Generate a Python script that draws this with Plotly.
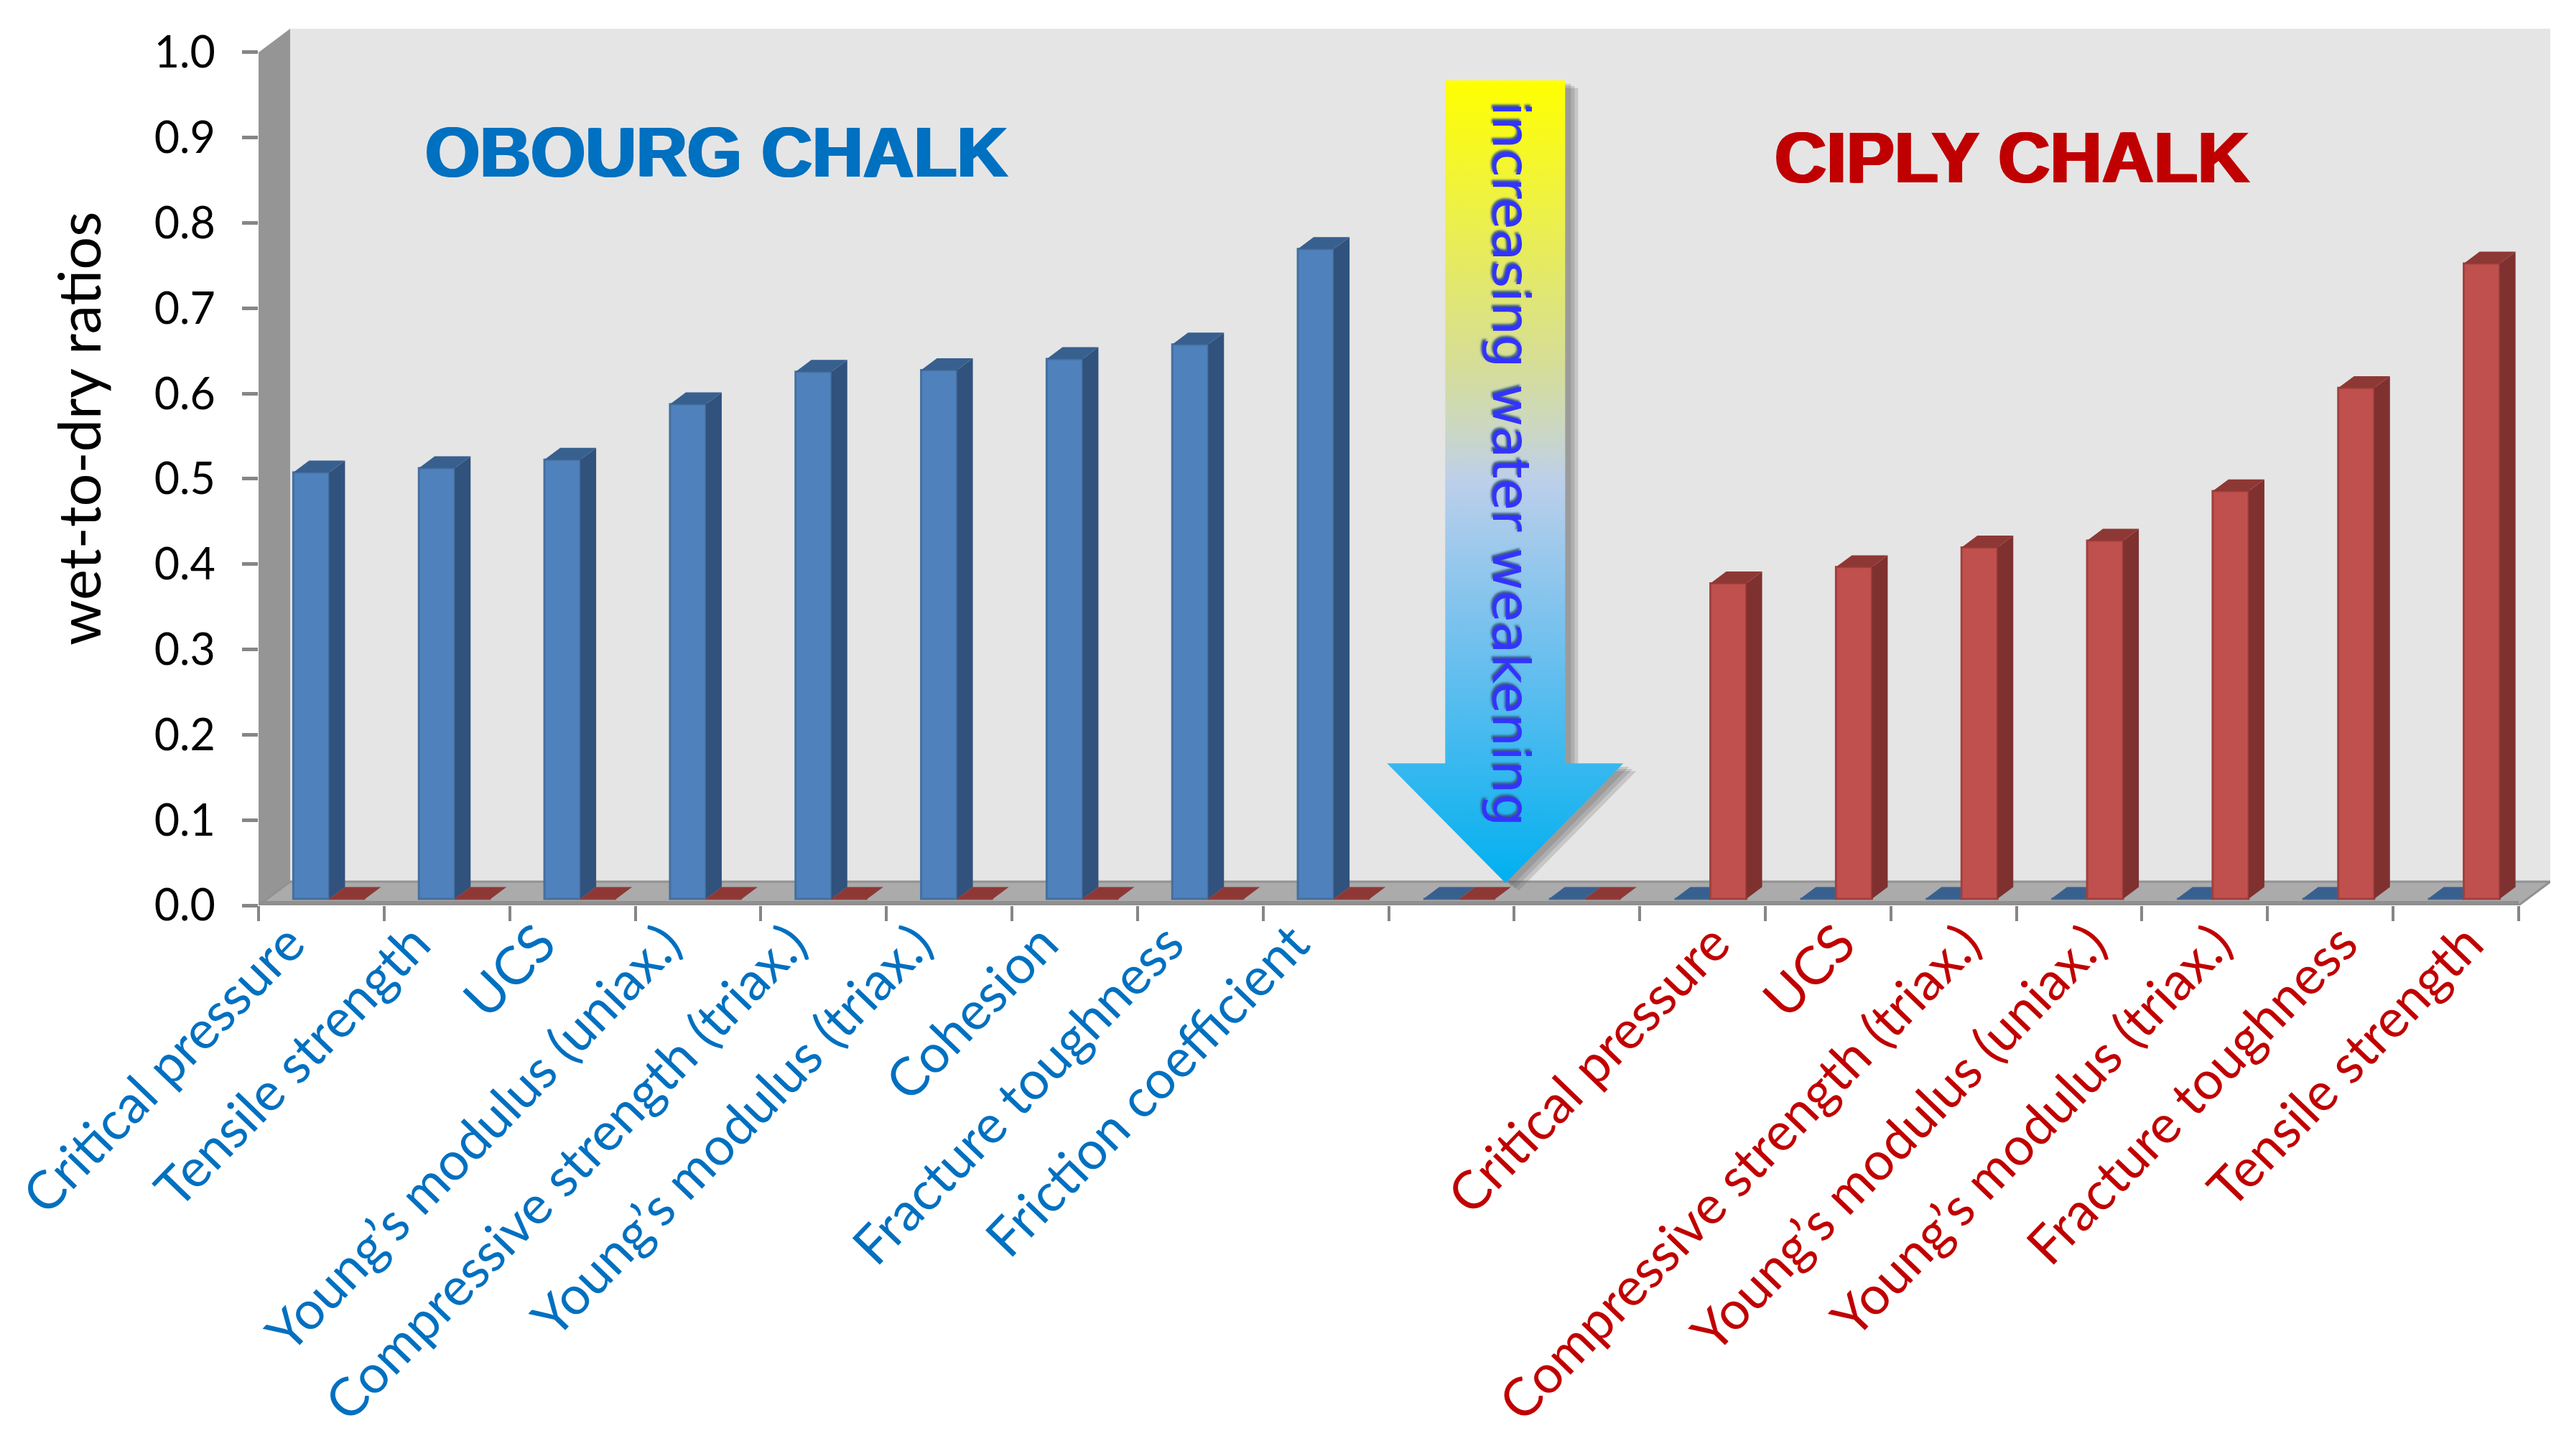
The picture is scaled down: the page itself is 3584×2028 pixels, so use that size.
import plotly.graph_objects as go

# slots along the x axis, 9 Obourg + 2 empty + 7 Ciply
obourg_labels = [
    "Critical pressure", "Tensile strength", "UCS", "Young’s modulus (uniax.)",
    "Compressive strength (triax.)", "Young’s modulus (triax.)", "Cohesion",
    "Fracture toughness", "Friction coefficient",
]
ciply_labels = [
    "Critical pressure", "UCS", "Compressive strength (triax.)",
    "Young’s modulus (uniax.)", "Young’s modulus (triax.)",
    "Fracture toughness", "Tensile strength",
]
empty_slots = 2

obourg_values = [0.50, 0.505, 0.515, 0.58, 0.618, 0.62, 0.633, 0.65, 0.762]
ciply_values = [0.37, 0.389, 0.412, 0.42, 0.478, 0.599, 0.745]

y_ticks = [0.0, 0.1, 0.2, 0.3, 0.4, 0.5, 0.6, 0.7, 0.8, 0.9, 1.0]

n_obourg = len(obourg_values)
n_ciply = len(ciply_values)
n_slots = n_obourg + empty_slots + n_ciply
slots = list(range(n_slots))

blue_values = obourg_values + [0] * (empty_slots + n_ciply)
red_values = [0] * (n_obourg + empty_slots) + ciply_values

# fake 3d, everything in axis units
SLOT_PX = 174.8
UNIT_PX = 1190
DEPTH_X = 44 / SLOT_PX
DEPTH_Y = 33 / UNIT_PX
BAR_W = 50 / SLOT_PX
BAR_SHIFT_X = 11 / SLOT_PX
BAR_SHIFT_Y = 9 / UNIT_PX
BAR_DEPTH_X = 22 / SLOT_PX
BAR_DEPTH_Y = 16.5 / UNIT_PX
# the two label groups do not sit at the same place under their slots
OBOURG_LABEL_SHIFT = -0.26
CIPLY_LABEL_SHIFT = 0.09

X_RANGE = [-0.5, n_slots - 0.5 + DEPTH_X]
Y_RANGE = [0, 1 + DEPTH_Y]
x_left, x_right = -0.5, n_slots - 0.5

LABEL_FONT = "Lato"
BLUE_TEXT = "#0070c0"
RED_TEXT = "#c00000"
GRID_GRAY = "#868686"


def px_x(px):
    return -0.5 + (px - 360) / SLOT_PX


def px_y(px):
    return (1261 - px) / UNIT_PX


def faces(values, offset):
    side_x, side_y, top_x, top_y = [], [], [], []
    for s, v in zip(slots, values):
        left = s + offset
        right = left + BAR_W
        low = BAR_SHIFT_Y
        high = BAR_SHIFT_Y + v
        if v > 0:
            side_x += [right, right + BAR_DEPTH_X, right + BAR_DEPTH_X, right, None]
            side_y += [low, low + BAR_DEPTH_Y, high + BAR_DEPTH_Y, high, None]
        top_x += [left, right, right + BAR_DEPTH_X, left + BAR_DEPTH_X, None]
        top_y += [high, high, high + BAR_DEPTH_Y, high + BAR_DEPTH_Y, None]
    return side_x, side_y, top_x, top_y


def add_series(fig, values, offset, front, line, side, top, xaxis, yaxis):
    side_x, side_y, top_x, top_y = faces(values, offset)
    fig.add_trace(go.Bar(
        x=slots, y=values, base=BAR_SHIFT_Y, width=BAR_W, offset=offset,
        marker=dict(color=front, line=dict(color=line, width=3)),
        xaxis=xaxis, yaxis=yaxis, showlegend=False,
    ))
    fig.add_trace(go.Scatter(
        x=side_x, y=side_y, mode="lines", fill="toself", fillcolor=side,
        line=dict(width=0, color=side), xaxis=xaxis, yaxis=yaxis, showlegend=False,
    ))
    fig.add_trace(go.Scatter(
        x=top_x, y=top_y, mode="lines", fill="toself", fillcolor=top,
        line=dict(width=0, color=top), xaxis=xaxis, yaxis=yaxis, showlegend=False,
    ))


tick_text = (
    [f'<span style="color:{BLUE_TEXT}">{t}</span>' for t in obourg_labels]
    + [f'<span style="color:{RED_TEXT}">{t}</span>' for t in ciply_labels]
)
label_vals = (
    [s + OBOURG_LABEL_SHIFT for s in slots[:n_obourg]]
    + [s + CIPLY_LABEL_SHIFT for s in slots[n_obourg + empty_slots:]]
)

fig = go.Figure()

add_series(fig, blue_values, BAR_SHIFT_X - BAR_W, "#4f81bd", "#44709f", "#30527d", "#38608f", "x", "y")
add_series(fig, red_values, BAR_SHIFT_X, "#c0504d", "#a2403d", "#7f3130", "#8e3835", "x2", "y2")

# arrow shadow then arrow, pixel positions
arrow_px = [(2012, 110), (2179, 110), (2179, 1063), (2260, 1063), (2096, 1230),
            (1931, 1063), (2012, 1063), (2012, 110)]
for off in [18, 13, 8]:
    fig.add_trace(go.Scatter(
        x=[px_x(p[0] + off) for p in arrow_px], y=[px_y(p[1] + off * 0.6) for p in arrow_px],
        mode="lines", fill="toself", fillcolor="rgba(90,90,90,0.22)", line=dict(width=0),
        xaxis="x2", yaxis="y2", showlegend=False,
    ))
fig.add_trace(go.Scatter(
    x=[px_x(p[0]) for p in arrow_px], y=[px_y(p[1]) for p in arrow_px],
    mode="lines", fill="toself", line=dict(width=0),
    fillgradient=dict(
        type="vertical",
        colorscale=[[0, "#00b0f0"], [0.31, "#75c1ee"], [0.5, "#bccfea"], [0.57, "#ccd8c0"],
                    [0.64, "#d5dd9a"], [0.82, "#ebef4e"], [1, "#ffff00"]],
    ),
    xaxis="x2", yaxis="y2", showlegend=False,
))

shapes = [
    # back wall
    dict(type="rect", xref="x", yref="y", x0=x_left + DEPTH_X, x1=x_right + DEPTH_X,
         y0=DEPTH_Y, y1=1 + DEPTH_Y, fillcolor="#e5e5e5", line=dict(width=0), layer="below"),
    # left wall
    dict(type="path", xref="x", yref="y", layer="below", fillcolor="#959595", line=dict(width=0),
         path=f"M {x_left} 0 L {x_left + DEPTH_X} {DEPTH_Y} L {x_left + DEPTH_X} {1 + DEPTH_Y} L {x_left} 1 Z"),
    # floor
    dict(type="path", xref="x", yref="y", layer="below", fillcolor="#ababab",
         line=dict(width=3, color="#919191"),
         path=f"M {x_left} 0 L {x_right} 0 L {x_right + DEPTH_X} {DEPTH_Y} L {x_left + DEPTH_X} {DEPTH_Y} Z"),
    # thick front edge of the floor
    dict(type="line", xref="x", yref="y", layer="below", x0=x_left, x1=x_right, y0=0.002, y1=0.002,
         line=dict(width=7, color="#8f8f8f")),
]

annotations = [
    dict(text="OBOURG CHALK", xref="paper", yref="paper", x=(997 - 360) / 3191, y=(1261 - 212) / 1221,
         xanchor="center", yanchor="middle", showarrow=False,
         font=dict(family="Liberation Sans", size=98, color=BLUE_TEXT, weight="bold",
                   shadow=f"2px 0 0 {BLUE_TEXT},-2px 0 0 {BLUE_TEXT}")),
    dict(text="CIPLY CHALK", xref="paper", yref="paper", x=(2801 - 360) / 3191, y=(1261 - 219) / 1221,
         xanchor="center", yanchor="middle", showarrow=False,
         font=dict(family="Liberation Sans", size=100, color=RED_TEXT, weight="bold",
                   shadow=f"2px 0 0 {RED_TEXT},-2px 0 0 {RED_TEXT}")),
    dict(text="increasing water weakening", xref="paper", yref="paper", x=(2104 - 360) / 3191, y=(1261 - 646) / 1221,
         xanchor="center", yanchor="middle", showarrow=False, textangle=90,
         font=dict(family="DejaVu Sans", size=72, color="#3333ff", shadow="-3px 2px 3px #3a5a8a")),
    dict(text="wet-to-dry ratios", xref="paper", yref="paper", x=(108 - 360) / 3191, y=(1261 - 597) / 1221,
         xanchor="center", yanchor="middle", showarrow=False, textangle=-90,
         font=dict(family=LABEL_FONT, size=81, color="black")),
]

# page has an 8px body margin, so take that off the left and top
fig.update_layout(
    width=3584, height=2028, autosize=False,
    margin=dict(l=352, r=41, t=32, b=775, autoexpand=False),
    paper_bgcolor="white", plot_bgcolor="white",
    barmode="overlay", showlegend=False,
    font=dict(family=LABEL_FONT),
    shapes=shapes, annotations=annotations,
    xaxis=dict(
        range=X_RANGE, tickmode="array", tickvals=label_vals, ticktext=tick_text,
        tickangle=-46, ticks="", showgrid=False, zeroline=False, showline=False,
        tickfont=dict(family=LABEL_FONT, size=74), ticklabelstandoff=-6,
        ticklabeloverflow="allow",
    ),
    yaxis=dict(
        range=Y_RANGE, tickmode="array", tickvals=y_ticks, ticktext=[f"{v:.1f}" for v in y_ticks],
        ticks="outside", ticklen=22, tickwidth=5, tickcolor=GRID_GRAY, showgrid=False,
        zeroline=False, showline=False, tickfont=dict(family=LABEL_FONT, size=61, color="black"),
        ticklabelstandoff=25,
    ),
    xaxis2=dict(
        range=X_RANGE, overlaying="x", anchor="y2", tickmode="array",
        tickvals=[s - 0.5 for s in slots] + [n_slots - 0.5], ticktext=[""] * (n_slots + 1),
        ticks="outside", ticklen=21, tickwidth=4, tickcolor=GRID_GRAY, showgrid=False,
        zeroline=False, showline=False,
    ),
    yaxis2=dict(range=Y_RANGE, overlaying="y", anchor="x2", showticklabels=False, ticks="",
                showgrid=False, zeroline=False, showline=False),
)

fig.write_html("out.html")
